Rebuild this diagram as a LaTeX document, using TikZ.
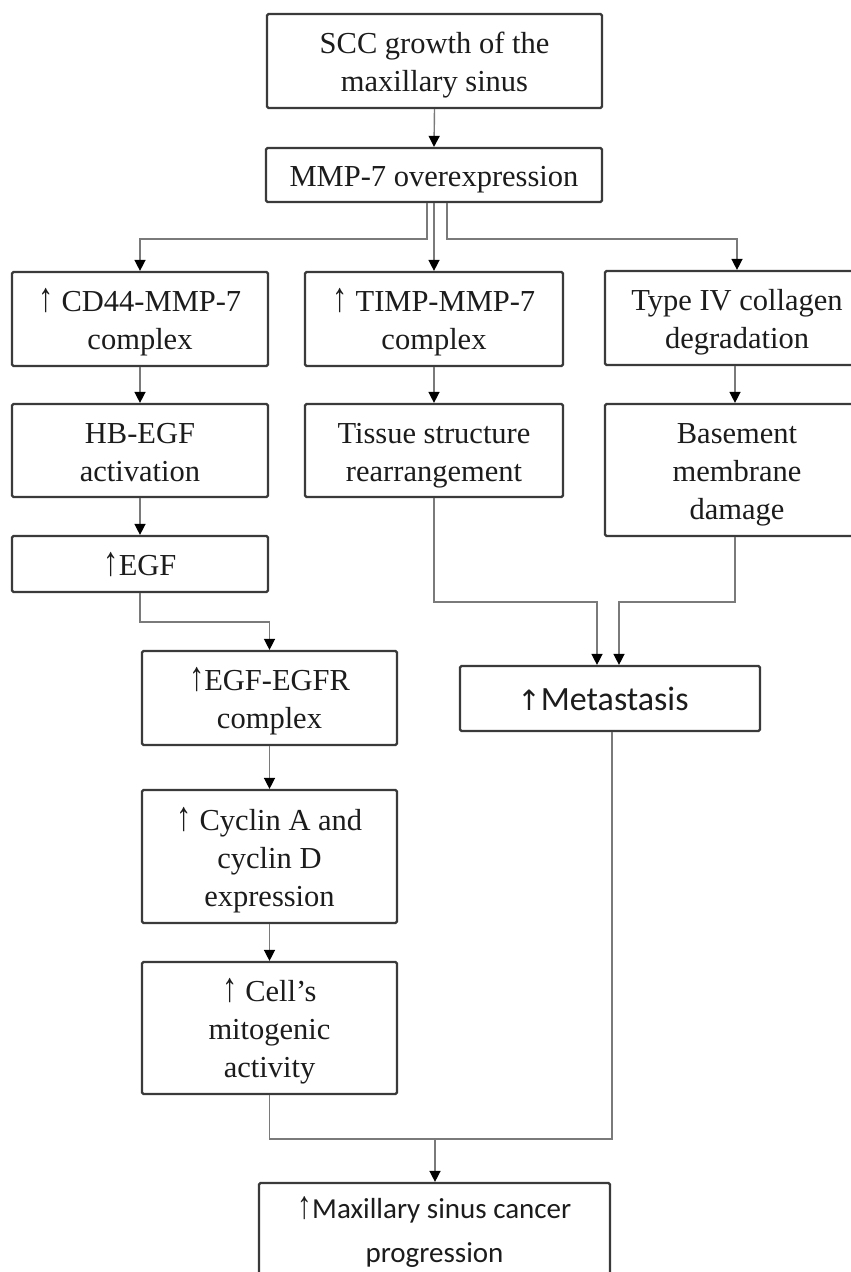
\documentclass[tikz,border=0pt]{standalone}
\usepackage{fontspec}
\usepackage{graphicx}
\setmainfont{Liberation Serif}
\newfontfamily\carl{Carlito}
\newfontfamily\dejav{DejaVu Sans}
\usetikzlibrary{arrows.meta}
\definecolor{boxc}{HTML}{3A3A3A}
\definecolor{linec}{HTML}{7A7A7A}
\definecolor{txtc}{HTML}{1C1C1C}
\newcommand\stt{\rule{0pt}{30pt}}
\newcommand\sdd{\rule[-7pt]{0pt}{7pt}}
\newcommand\upa{\scalebox{1}[1.35]{↑}}
\begin{document}
\begin{tikzpicture}[x=1pt,y=-1pt,
  box/.style={draw=boxc, line width=2.2pt, rounded corners=1.5pt, inner sep=0pt,
    align=center, text=txtc, font=\fontsize{30.5}{38}\selectfont},
  conn/.style={draw=linec, line width=1.4pt},
  arr/.style={conn, -{Triangle[length=11pt,width=11pt,color=black]}}
]
\clip (0,0) rectangle (851,1272);
\fill[white] (0,0) rectangle (851,1272);

% boxes
\node[box, minimum width=335pt, minimum height=94pt] (scc) at (434.5,61) {\stt SCC growth of the\\maxillary sinus\sdd};
\node[box, minimum width=336pt, minimum height=54pt] (mmp) at (434,175) {\stt MMP-7 overexpression\sdd};
\node[box, minimum width=256pt, minimum height=94pt] (cd44) at (140,319) {\stt\upa\ CD44-MMP-7\\complex\sdd};
\node[box, minimum width=258pt, minimum height=94pt] (timp) at (434,319) {\stt\upa\ TIMP-MMP-7\\complex\sdd};
\node[box, minimum width=264pt, minimum height=94pt] (col) at (737,318) {\stt Type IV collagen\\degradation\sdd};
\node[box, minimum width=256pt, minimum height=93pt] (hb) at (140,450.5) {\stt HB-EGF\\activation\sdd};
\node[box, minimum width=258pt, minimum height=93pt] (tis) at (434,450.5) {\stt Tissue structure\\rearrangement\sdd};
\node[box, minimum width=264pt, minimum height=132pt] (base) at (737,470) {\stt Basement\\membrane\\damage\sdd};
\node[box, minimum width=256pt, minimum height=56pt] (egf) at (140,564) {\stt\upa EGF\sdd};
\node[box, minimum width=255pt, minimum height=94pt] (egfr) at (269.5,698) {\stt\upa EGF-EGFR\\complex\sdd};
\node[box, minimum width=300pt, minimum height=65pt] (meta) at (610,698.5)
  {\stt{\dejav\fontsize{28}{34}\selectfont ↑}{\carl\fontsize{34}{40}\selectfont Metastasis}\hspace{14pt}\sdd};
\node[box, minimum width=255pt, minimum height=133pt] (cyc) at (269.5,856.5) {\stt\upa\ Cyclin A and\\cyclin D\\expression\sdd};
\node[box, minimum width=255pt, minimum height=132pt] (cell) at (269.5,1028) {\stt\upa\ Cell’s\\mitogenic\\activity\sdd};
\node[box, minimum width=351pt, minimum height=99pt, font=\carl\fontsize{29}{44}\selectfont] (prog) at (434.5,1232.5)
  {{\fontspec{Liberation Serif}\upa}Maxillary sinus cancer\\progression\sdd};

% junction coordinates
\coordinate (jm) at (0,602);
\coordinate (jr) at (612,1139);
\coordinate (jp) at (435,1139);

% connectors
\draw[arr] (scc.south) -- (mmp.north);
\draw[arr] ([xshift=-7pt]mmp.south) -- ++(0,36) -| (cd44.north);
\draw[arr] (mmp.south) -- (timp.north);
\draw[arr] ([xshift=13pt]mmp.south) -- ++(0,36) -| (col.north);
\draw[arr] (cd44.south) -- (hb.north);
\draw[arr] (hb.south) -- (egf.north);
\draw[arr] (egf.south) -- ++(0,29) -| (egfr.north);
\draw[arr] (timp.south) -- (tis.north);
\draw[arr] ([xshift=-2pt]col.south) -- ([xshift=-2pt]base.north);
\draw[arr] (tis.south) -- (tis.south |- jm) -| ([xshift=-13pt]meta.north);
\draw[arr] ([xshift=-2pt]base.south) -- ([xshift=-2pt]base.south |- jm) -| ([xshift=9pt]meta.north);
\draw[arr] (egfr.south) -- (cyc.north);
\draw[arr] (cyc.south) -- (cell.north);
\draw[conn] (cell.south) |- (jr) -- (meta.south -| jr);
\draw[arr] (jp) -- (prog.north -| jp);
\end{tikzpicture}
\end{document}
